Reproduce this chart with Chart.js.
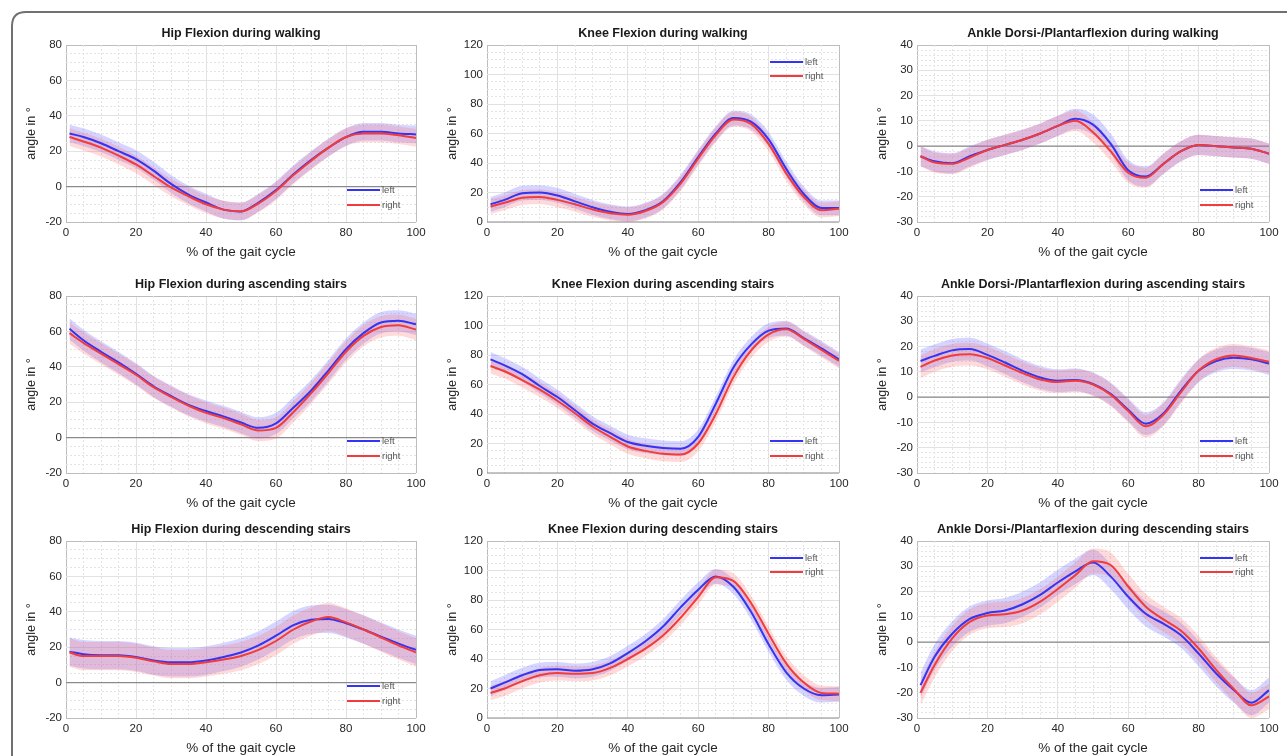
<!DOCTYPE html>
<html>
<head>
<meta charset="utf-8">
<script src="https://cdn.jsdelivr.net/npm/chart.js@4.4.0/dist/chart.umd.min.js"></script>
<style>
  html, body { margin: 0; padding: 0; background: #fff; overflow: hidden; }
  body { width: 1287px; height: 756px; position: relative; }
  #frame { position: absolute; left: 0; top: 0; }
  .cell { position: absolute; }
</style>
</head>
<body>
<svg id="frame" width="1287" height="756">
  <path d="M12 756 L12 26 Q12 12 26 12 L1287 12" fill="none" stroke="#707070" stroke-width="2"/>
</svg>
<script>
// % of gait cycle where values were read
const gaitPct = [1, 5, 10, 15, 20, 25, 30, 35, 40, 45, 50, 55, 60, 65, 70, 75, 80, 85, 90, 95, 100];

const hipWalkLeft    = [30, 28, 24.5, 20, 15.5, 9, 1.5, -4.5, -9, -13, -14, -9, -2, 7, 15, 22, 28, 31, 31, 30, 29.5];
const hipWalkRight   = [28, 25.5, 22, 17.5, 12.5, 6, -0.5, -5.5, -10, -13, -14, -9.5, -2.5, 6.5, 14.5, 22, 28, 30, 30, 29, 27.5];
const kneeWalkLeft   = [12, 15, 19.5, 20, 18, 14, 10, 7, 5.5, 8, 14, 27, 44, 60, 70.5, 68, 56, 36, 19, 9.5, 9.5];
const kneeWalkRight  = [10.5, 13, 16.5, 17, 15, 12, 8.5, 6, 5, 7.5, 13.5, 26, 43, 59, 69.5, 66.5, 53, 33, 17, 8, 9];
const ankleWalkLeft  = [-4, -6, -6.8, -4, -1.5, 0.5, 2.5, 5, 8, 10.8, 8.5, 1, -9.5, -12, -7, -2, 0.5, 0, -0.5, -1, -3];
const ankleWalkRight = [-4, -6.5, -7, -4.5, -1.5, 0.5, 2.5, 5, 8, 10, 5.5, -2, -10.5, -12.5, -7, -2, 0.5, 0, -0.5, -1, -3];

const hipAscLeft     = [61.5, 55, 48.5, 42.5, 36, 29, 23.5, 18.5, 15, 12, 8.5, 5.5, 8, 17, 26.5, 38, 50, 59, 65, 66, 64];
const hipAscRight    = [59, 53.5, 47.5, 41.5, 35.5, 28.5, 23, 18, 14, 11, 7.5, 4, 5.5, 14.5, 25, 36.5, 48.5, 57.5, 62.5, 63.5, 61];
const kneeAscLeft    = [77, 73, 67, 59, 51.5, 42.5, 33.5, 27, 21, 18.5, 17, 16.5, 24.5, 47, 71.5, 87, 96.5, 98, 91.5, 84.5, 77];
const kneeAscRight   = [72.5, 69, 63, 56.5, 49, 40.5, 31.5, 24.5, 18, 15, 13, 12.5, 20, 40, 65, 83, 94, 97.5, 91, 83.5, 76];
const ankleAscLeft   = [14.3, 16.3, 18.5, 19, 16.7, 13.7, 10.4, 7.8, 6.5, 6.8, 5.2, 1.3, -5, -10.5, -6.5, 2.6, 10.4, 14.3, 15.6, 15, 13.3];
const ankleAscRight  = [12, 14.5, 16.5, 17, 15.5, 12.5, 9.5, 7, 6, 6.5, 5, 1, -5.5, -11.5, -7, 2, 10.5, 15, 16.5, 15.5, 14];

const hipDescLeft    = [17.5, 16, 15.5, 15.5, 14.5, 12.5, 11.5, 11.5, 12.5, 14.5, 17, 21, 26.5, 32.5, 35.5, 36, 33.5, 30, 26, 22, 18.5];
const hipDescRight   = [17, 15, 15, 15, 14, 12, 10.5, 10.5, 11.5, 13, 15, 18.5, 23.5, 30, 34.5, 37, 34, 30, 25.5, 21, 17];
const kneeDescLeft   = [20, 24, 29, 32.5, 33, 32, 33, 37, 44, 52, 62, 75, 87, 96, 89, 72, 50, 31, 20, 15.5, 16];
const kneeDescRight  = [17, 20, 25, 29, 30.5, 30, 30.5, 34, 40, 47, 56, 68, 82, 95.5, 93, 78, 57, 37, 24, 17, 16.5];
const ankleDescLeft  = [-17, -5.8, 3.3, 9.2, 11.5, 12.5, 15, 18.7, 23.6, 28, 31.5, 26, 18, 11.2, 7.3, 2.7, -4.5, -12.4, -18.9, -24, -19];
const ankleDescRight = [-20, -9, 1.5, 8, 10.5, 11, 12.5, 16, 21, 26.5, 32, 30.5, 22, 14, 9, 4.5, -2.5, -11, -18.5, -25, -21.5];

// spread of the shaded band (+/- degrees) per panel
const bandSD = [5, 5, 4, 6, 5, 4.5, 8, 5, 5];

const leftSeries  = [hipWalkLeft, kneeWalkLeft, ankleWalkLeft, hipAscLeft, kneeAscLeft, ankleAscLeft, hipDescLeft, kneeDescLeft, ankleDescLeft];
const rightSeries = [hipWalkRight, kneeWalkRight, ankleWalkRight, hipAscRight, kneeAscRight, ankleAscRight, hipDescRight, kneeDescRight, ankleDescRight];

const panelTitles = [
  "Hip Flexion during walking",
  "Knee Flexion during walking",
  "Ankle Dorsi-/Plantarflexion during walking",
  "Hip Flexion during ascending stairs",
  "Knee Flexion during ascending stairs",
  "Ankle Dorsi-/Plantarflexion during ascending stairs",
  "Hip Flexion during descending stairs",
  "Knee Flexion during descending stairs",
  "Ankle Dorsi-/Plantarflexion during descending stairs"
];
const yMin  = [-20, 0, -30, -20, 0, -30, -20, 0, -30];
const yMax  = [80, 120, 40, 80, 120, 40, 80, 120, 40];
const yStep = [20, 20, 10, 20, 20, 10, 20, 20, 10];
const yMinorStep = [5, 5, 2, 5, 5, 2, 5, 5, 2];
const xTicks = [0, 20, 40, 60, 80, 100];
const legendAt = ["bottom", "top", "bottom", "bottom", "bottom", "bottom", "bottom", "top", "top"];
const sideNames = ["left", "right"];

const FONT = '"Liberation Sans", Arial, Helvetica, sans-serif';
const BLUE = "#3434f2";
const RED = "#f23b3b";
const BLUE_BAND = "rgba(100,100,255,0.27)";
const RED_BAND = "rgba(255,100,100,0.24)";

// layout of the 3x3 grid
const colLeft = [11, 432, 862];
const colWidth = [420, 422, 422];
const rowTop = [19, 270, 515];
const cellHeight = 243;

// legend drawn inside the plot area
const insideLegend = {
  id: "insideLegend",
  afterDatasetsDraw(chart, args, opts) {
    const { ctx, chartArea: a } = chart;
    const rows = opts.where === "top" ? [a.top + 17, a.top + 31] : [a.bottom - 32, a.bottom - 17];
    const colors = [BLUE, RED];
    ctx.save();
    ctx.font = "9.5px " + FONT;
    ctx.textBaseline = "middle";
    rows.forEach((y, k) => {
      ctx.beginPath();
      ctx.strokeStyle = colors[k];
      ctx.lineWidth = 2;
      ctx.moveTo(a.right - 69, y);
      ctx.lineTo(a.right - 36, y);
      ctx.stroke();
      ctx.fillStyle = "#555";
      ctx.fillText(sideNames[k], a.right - 34, y + 0.5);
    });
    ctx.restore();
  }
};

function pts(arr, shift) {
  return gaitPct.map((x, i) => ({ x: x, y: arr[i] + shift }));
}

function makePanel(i) {
  const r = Math.floor(i / 3), c = i % 3;
  const div = document.createElement("div");
  div.className = "cell";
  div.style.left = colLeft[c] + "px";
  div.style.top = rowTop[r] + "px";
  const canvas = document.createElement("canvas");
  canvas.width = colWidth[c];
  canvas.height = cellHeight;
  div.appendChild(canvas);
  document.body.appendChild(div);

  const sd = bandSD[i];
  const lo = yMin[i], hi = yMax[i];
  const line = (data, color) => ({
    data, borderColor: color, borderWidth: 2, pointRadius: 0,
    cubicInterpolationMode: "monotone", fill: false
  });
  const edge = (data, fill, bg) => ({
    data, borderWidth: 0, borderColor: "transparent", pointRadius: 0,
    cubicInterpolationMode: "monotone", fill: fill, backgroundColor: bg
  });

  new Chart(canvas, {
    type: "line",
    data: {
      datasets: [
        line(pts(rightSeries[i], 0), RED),
        line(pts(leftSeries[i], 0), BLUE),
        edge(pts(rightSeries[i], sd), false, RED_BAND),
        edge(pts(rightSeries[i], -sd), "-1", RED_BAND),
        edge(pts(leftSeries[i], sd), false, BLUE_BAND),
        edge(pts(leftSeries[i], -sd), "-1", BLUE_BAND),
        { data: [{ x: 0, y: 0 }, { x: 100, y: 0 }], borderColor: "#8a8a8a", borderWidth: 1.2, pointRadius: 0, fill: false }
      ]
    },
    options: {
      responsive: false,
      animation: false,
      events: [],
      layout: { padding: { right: 15 } },
      plugins: {
        legend: { display: false },
        tooltip: { enabled: false },
        title: {
          display: true, text: panelTitles[i], fullSize: false, color: "#1a1a1a",
          font: { family: FONT, size: 12.5, weight: "bold", lineHeight: 1.2 },
          padding: { top: 7, bottom: 4 }
        },
        insideLegend: { where: legendAt[i] }
      },
      scales: {
        x: {
          type: "linear", position: "bottom", min: 0, max: 100,
          afterBuildTicks: s => { s.ticks = xTicks.map(v => ({ value: v })); },
          ticks: { color: "#262626", font: { family: FONT, size: 11.5 }, padding: 4, maxRotation: 0 },
          grid: {
            drawTicks: false, lineWidth: 1,
            color: ctx => (ctx.tick.value === 0 || ctx.tick.value === 100) ? "#bdbdbd" : "#e2e2e2"
          },
          border: { display: false },
          title: {
            display: true, text: "% of the gait cycle", color: "#262626",
            font: { family: FONT, size: 13.5, lineHeight: 1.2 }, padding: { top: 0, bottom: 1.5 }
          },
          afterFit: s => { s.height = 40; }
        },
        y: {
          type: "linear", position: "left", min: lo, max: hi,
          ticks: { stepSize: yStep[i], color: "#262626", font: { family: FONT, size: 11.5 }, padding: 4 },
          grid: {
            drawTicks: false, lineWidth: 1,
            color: ctx => (ctx.tick.value === lo || ctx.tick.value === hi) ? "#bdbdbd" : "#e2e2e2"
          },
          border: { display: false },
          title: {
            display: true, text: "angle in °", color: "#262626",
            font: { family: FONT, size: 12.5, lineHeight: 1.2 }, padding: { top: 13, bottom: 0 }
          },
          afterFit: s => { s.width = 55; }
        },
        xm: {
          type: "linear", position: "bottom", min: 0, max: 100,
          ticks: { display: false, stepSize: 5 },
          grid: {
            drawTicks: false, lineWidth: 1,
            color: ctx => (ctx.tick.value % 20 === 0) ? "transparent" : "#e4e4e4"
          },
          border: { display: false, dash: [2, 2] },
          afterFit: s => { s.height = 0; }
        },
        ym: {
          type: "linear", position: "left", min: lo, max: hi,
          ticks: { display: false, stepSize: yMinorStep[i] },
          grid: {
            drawTicks: false, lineWidth: 1,
            color: ctx => (((ctx.tick.value - lo) % yStep[i]) === 0) ? "transparent" : "#e4e4e4"
          },
          border: { display: false, dash: [2, 2] },
          afterFit: s => { s.width = 0; }
        }
      }
    },
    plugins: [insideLegend]
  });
}

for (let i = 0; i < 9; i++) makePanel(i);
</script>
</body>
</html>
